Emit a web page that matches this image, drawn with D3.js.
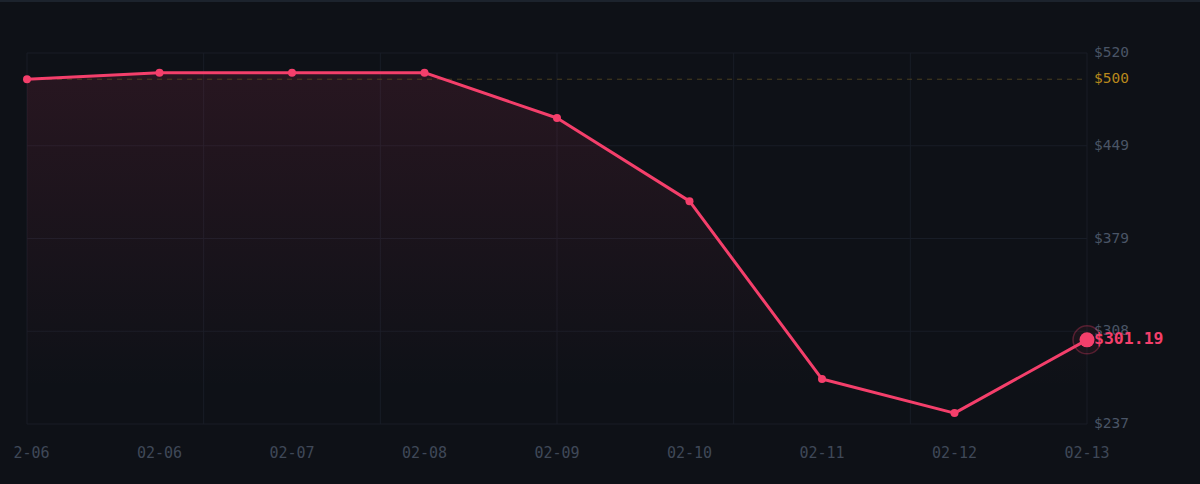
<!DOCTYPE html>
<html>
<head>
<meta charset="utf-8">
<script src="https://cdn.jsdelivr.net/npm/d3@7"></script>
<style>
  html, body { margin: 0; padding: 0; background: #0e1117; }
  svg { display: block; }
</style>
</head>
<body>
<script>
var width = 1200, height = 484;

// data
var dates = ["02-06", "02-06", "02-07", "02-08", "02-09", "02-10", "02-11", "02-12", "02-13"];
var prices = [500, 505, 505, 505, 470.4, 407, 271.3, 245.3, 301.19];
var target = 500;
var yMin = 237, yMax = 520;
var yTickCount = 5;
var xGridCount = 7;

var plotLeft = 27, plotRight = 1087, plotTop = 53, plotBottom = 424;
var pink = "#f43f6b";

var svg = d3.select("body").append("svg")
    .attr("width", width)
    .attr("height", height);

var defs = svg.append("defs");
var grad = defs.append("linearGradient")
    .attr("id", "areaFill")
    .attr("x1", 0).attr("y1", 0).attr("x2", 0).attr("y2", 1);
grad.append("stop").attr("offset", "0%").attr("stop-color", pink).attr("stop-opacity", 0.11);
grad.append("stop").attr("offset", "90%").attr("stop-color", pink).attr("stop-opacity", 0);

defs.append("clipPath").attr("id", "labelClip")
  .append("rect").attr("x", 13).attr("y", 0).attr("width", width - 13).attr("height", height);

// top border strip
svg.append("rect").attr("x", 0).attr("y", 0).attr("width", width).attr("height", 2).attr("fill", "#1c232d");

var x = d3.scaleLinear().domain([0, dates.length - 1]).range([plotLeft, plotRight]);
var y = d3.scaleLinear().domain([yMin, yMax]).range([plotBottom, plotTop]);
var gx = d3.scaleLinear().domain([0, xGridCount - 1]).range([plotLeft, plotRight]);

var yTicks = d3.range(yTickCount).map(function (i) { return yMin + (yMax - yMin) * i / (yTickCount - 1); });

// grid
var grid = svg.append("g").attr("class", "grid");
grid.selectAll("line.h")
    .data(yTicks)
    .enter().append("line")
    .attr("x1", plotLeft).attr("x2", plotRight)
    .attr("y1", function (d) { return y(d); })
    .attr("y2", function (d) { return y(d); })
    .attr("stroke", "#181d27").attr("stroke-width", 1);
grid.selectAll("line.v")
    .data(d3.range(xGridCount))
    .enter().append("line")
    .attr("x1", function (d) { return gx(d); })
    .attr("x2", function (d) { return gx(d); })
    .attr("y1", plotTop).attr("y2", plotBottom)
    .attr("stroke", "#181d27").attr("stroke-width", 1);

// area under line
var area = d3.area()
    .x(function (d, i) { return x(i); })
    .y0(plotBottom)
    .y1(function (d) { return y(d); });
svg.append("path")
    .datum(prices)
    .attr("d", area)
    .attr("fill", "url(#areaFill)");

// target line
svg.append("line")
    .attr("x1", plotLeft).attr("x2", plotRight)
    .attr("y1", y(target)).attr("y2", y(target))
    .attr("stroke", "#5a4a22").attr("stroke-opacity", 0.8)
    .attr("stroke-width", 1)
    .attr("stroke-dasharray", "5,5");

// price line
var line = d3.line()
    .x(function (d, i) { return x(i); })
    .y(function (d) { return y(d); });
svg.append("path")
    .datum(prices)
    .attr("d", line)
    .attr("fill", "none")
    .attr("stroke", pink)
    .attr("stroke-width", 3)
    .attr("stroke-linejoin", "round");

svg.selectAll("circle.pt")
    .data(prices.slice(0, prices.length - 1))
    .enter().append("circle")
    .attr("class", "pt")
    .attr("cx", function (d, i) { return x(i); })
    .attr("cy", function (d) { return y(d); })
    .attr("r", 4)
    .attr("fill", pink);

// y labels
var font = "'DejaVu Sans Mono', monospace";
svg.selectAll("text.ylab")
    .data(yTicks)
    .enter().append("text")
    .attr("x", 1094)
    .attr("y", function (d) { return y(d); })
    .attr("dominant-baseline", "middle")
    .attr("font-family", font)
    .attr("font-size", 14.5)
    .attr("fill", "#4a5566")
    .text(function (d) { return "$" + Math.round(d); });

svg.append("text")
    .attr("x", 1094)
    .attr("y", y(target))
    .attr("dominant-baseline", "middle")
    .attr("font-family", font)
    .attr("font-size", 14.5)
    .attr("fill", "#b8881c")
    .text("$" + target);

// x labels
svg.append("g").attr("clip-path", "url(#labelClip)")
  .selectAll("text")
    .data(dates)
    .enter().append("text")
    .attr("x", function (d, i) { return x(i); })
    .attr("y", 453)
    .attr("text-anchor", "middle")
    .attr("dominant-baseline", "middle")
    .attr("font-family", font)
    .attr("font-size", 15)
    .attr("fill", "#3f4857")
    .text(function (d) { return d; });

// last point marker
var last = prices.length - 1;
svg.append("circle")
    .attr("cx", x(last)).attr("cy", y(prices[last]))
    .attr("r", 14)
    .attr("fill", pink).attr("fill-opacity", 0.06)
    .attr("stroke", pink).attr("stroke-opacity", 0.3).attr("stroke-width", 1.5);
svg.append("circle")
    .attr("cx", x(last)).attr("cy", y(prices[last]))
    .attr("r", 7.5)
    .attr("fill", pink);
svg.append("text")
    .attr("x", 1094)
    .attr("y", y(prices[last]))
    .attr("dominant-baseline", "middle")
    .attr("font-family", font)
    .attr("font-size", 16.5)
    .attr("font-weight", "bold")
    .attr("fill", pink)
    .text("$" + prices[last].toFixed(2));
</script>
</body>
</html>
